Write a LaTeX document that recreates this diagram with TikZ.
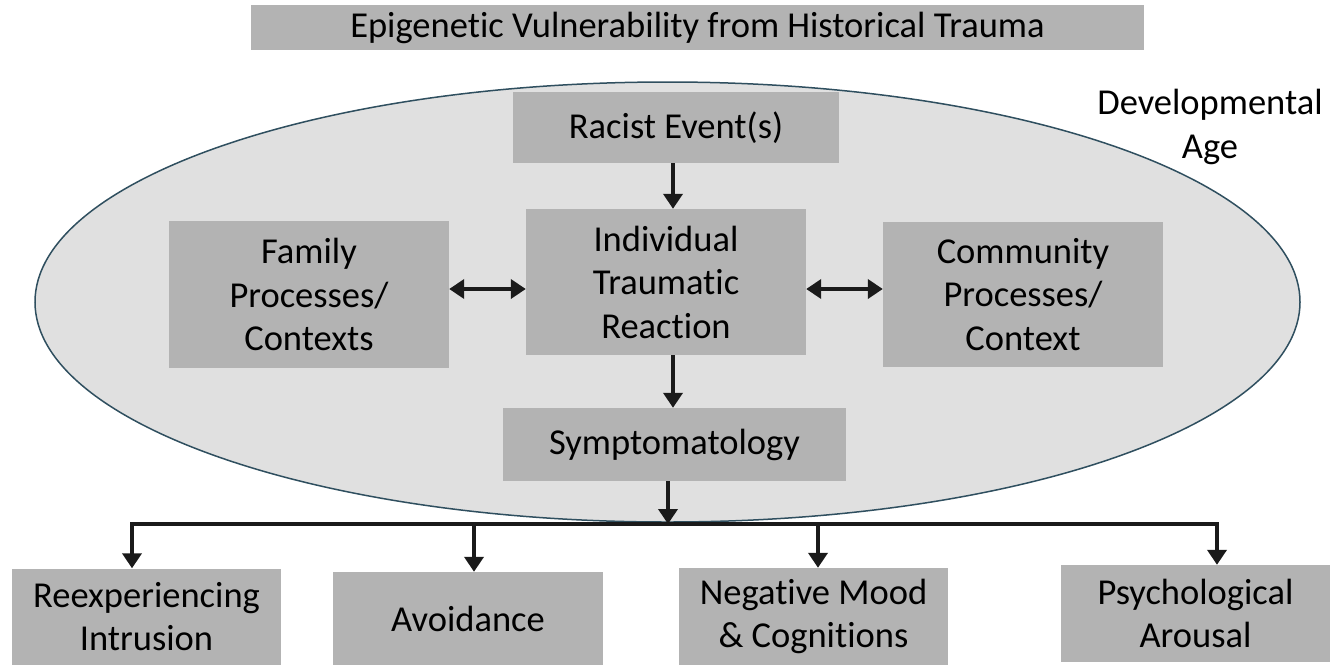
\documentclass[tikz,border=0pt]{standalone}
\usepackage{fontspec}
\setmainfont[Ligatures={NoCommon}]{Carlito}
\usetikzlibrary{arrows.meta}
\definecolor{boxgray}{HTML}{B3B3B3}
\definecolor{ellfill}{HTML}{E0E0E0}
\definecolor{ellline}{HTML}{2F4F5F}
\definecolor{arrcol}{HTML}{1A1A1A}
\begin{document}
\begin{tikzpicture}[x=1pt,y=-1pt,
  gbox/.style={fill=boxgray,draw=none,inner sep=0pt,align=center,
    font=\fontsize{36.5}{43.5}\selectfont},
  conn/.style={draw=arrcol,line width=4.5pt,-{Triangle[width=19pt,length=15pt]}},
  dconn/.style={draw=arrcol,line width=4.5pt,{Triangle[width=19pt,length=15pt]}-{Triangle[width=19pt,length=15pt]}},
  bar/.style={draw=arrcol,line width=4.5pt,line cap=rect}]
\useasboundingbox (0,0) rectangle (1330,665);
% ellipse
\draw[fill=ellfill,draw=ellline,line width=1.5pt] (667.5,302) ellipse [x radius=632.5pt,y radius=220pt];
% title
\node[gbox,minimum width=893pt,minimum height=45pt,font=\fontsize{36.5}{43.5}\selectfont] (title) at (697.5,27.5) {Epigenetic Vulnerability from Historical Trauma};
\node[align=center,inner sep=0pt,font=\fontsize{36.5}{43.5}\selectfont] (dev) at (1210,127) {Developmental\\Age};
% boxes
\node[gbox,minimum width=326pt,minimum height=71pt] (racist) at (676,127.5) {Racist Event(s)};
\node[gbox,minimum width=280pt,minimum height=146pt] (indiv) at (666,282) {Individual\\Traumatic\\Reaction};
\node[gbox,minimum width=280pt,minimum height=147pt] (family) at (309,294.5) {Family\\Processes/\\Contexts};
\node[gbox,minimum width=280pt,minimum height=145pt] (comm) at (1023,294.5) {Community\\Processes/\\Context};
\node[gbox,minimum width=343pt,minimum height=73pt] (symp) at (674.5,444.5) {Symptomatology};
\node[gbox,minimum width=269pt,minimum height=96pt] (reexp) at (146.5,616.5) {Reexperiencing\\Intrusion};
\node[gbox,minimum width=270pt,minimum height=93pt] (avoid) at (468,618.5) {Avoidance};
\node[gbox,minimum width=269pt,minimum height=97pt] (neg) at (813.5,616.5) {Negative Mood\\\& Cognitions};
\node[gbox,minimum width=269pt,minimum height=97pt] (psych) at (1195.5,613.5) {Psychological\\Arousal};
% helper coordinates
\coordinate (ay) at (0,289);
\coordinate (ax) at (673,0);
\coordinate (sx) at (668,0);
\coordinate (b1) at (132,524);
\coordinate (b2) at (474,524);
\coordinate (b3) at (818,524);
\coordinate (b4) at (1217,524);
\coordinate (bm) at (668,524);
% connectors
\draw[conn] (racist.south -| ax) -- (indiv.north -| ax);
\draw[conn] (indiv.south -| ax) -- (symp.north -| ax);
\draw[dconn] (family.east |- ay) -- (indiv.west |- ay);
\draw[dconn] (indiv.east |- ay) -- (comm.west |- ay);
\draw[bar] (b1) -- (b4);
\draw[conn] (symp.south -| sx) -- (bm);
\draw[conn] (b1) -- (reexp.north -| b1);
\draw[conn] (b2) -- (avoid.north -| b2);
\draw[conn] (b3) -- (neg.north -| b3);
\draw[conn] (b4) -- (psych.north -| b4);
\end{tikzpicture}
\end{document}
